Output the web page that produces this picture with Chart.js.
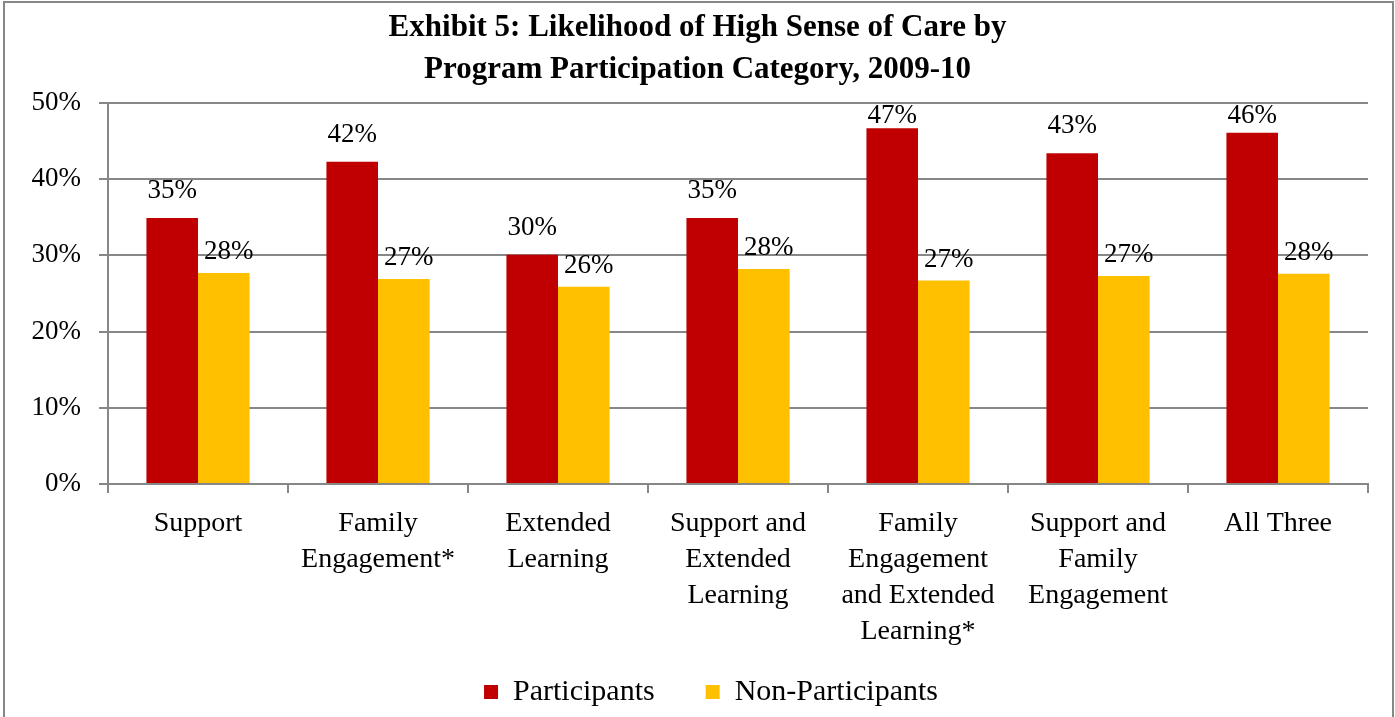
<!DOCTYPE html>
<html>
<head>
<meta charset="utf-8">
<script src="https://cdn.jsdelivr.net/npm/chart.js@4.4.1/dist/chart.umd.min.js"></script>
<style>
  body { margin: 0; background: #fff; }
  canvas { display: block; }
</style>
</head>
<body>
<canvas id="myChart" width="1395" height="717"></canvas>
<script>
// categories (multi-line labels as on the original)
var categorias = [
    ['Support'],
    ['Family', 'Engagement*'],
    ['Extended', 'Learning'],
    ['Support and', 'Extended', 'Learning'],
    ['Family', 'Engagement', 'and Extended', 'Learning*'],
    ['Support and', 'Family', 'Engagement'],
    ['All Three']
];
var participantes = [34.9, 42.3, 30.1, 34.9, 46.7, 43.4, 46.1];
var noParticipantes = [27.7, 26.9, 25.9, 28.2, 26.7, 27.3, 27.6];
var yTicks = [0, 10, 20, 30, 40, 50];

var fuente = "'Liberation Serif', 'Times New Roman', serif";
var gris = '#878787';

// labels over bars
var etiquetas = {
    id: 'etiquetas',
    afterDatasetsDraw: function (chart) {
        var ctx = chart.ctx;
        var area = chart.chartArea;
        ctx.save();
        ctx.font = '27px ' + fuente;
        ctx.fillStyle = '#000';
        ctx.textAlign = 'center';
        ctx.textBaseline = 'alphabetic';
        chart.data.datasets.forEach(function (ds, d) {
            var meta = chart.getDatasetMeta(d);
            meta.data.forEach(function (bar, i) {
                var off = d === 0 ? 20 : 14;
                var dx = d === 0 ? 0 : 5;
                var y = Math.max(bar.y - off, area.top + 20);
                ctx.fillText(Math.round(ds.data[i]) + '%', bar.x + dx, y);
            });
        });
        ctx.restore();
    }
};

// gray frame round the chart + small layout fixes
var marco = {
    id: 'marco',
    afterLayout: function (chart) {
        // x labels need room for 4 lines, title centred on the whole page
        chart.scales.x.bottom = chart.height;
        chart.titleBlock.left = 0;
        chart.titleBlock.right = chart.width;
        chart.legend.left = 27;
        chart.legend.right = chart.width;
    },
    beforeDraw: function (chart) {
        var ctx = chart.ctx;
        ctx.save();
        ctx.strokeStyle = gris;
        ctx.lineWidth = 2;
        ctx.beginPath();
        ctx.moveTo(4, 717);
        ctx.lineTo(4, 2);
        ctx.lineTo(1393, 2);
        ctx.lineTo(1393, 717);
        ctx.stroke();
        ctx.restore();
    }
};

var ctx = document.getElementById('myChart').getContext('2d');
var myChart = new Chart(ctx, {
    type: 'bar',
    data: {
        labels: categorias,
        datasets: [{
            label: 'Participants',
            data: participantes,
            backgroundColor: '#C00000',
            categoryPercentage: 0.573,
            barPercentage: 1.0
        }, {
            label: 'Non-Participants',
            data: noParticipantes,
            backgroundColor: '#FFC000',
            categoryPercentage: 0.573,
            barPercentage: 1.0
        }]
    },
    options: {
        responsive: false,
        animation: false,
        layout: {
            padding: { left: 0, right: 27, top: 0, bottom: 0 }
        },
        plugins: {
            title: {
                display: true,
                text: ['Exhibit 5: Likelihood of High Sense of Care by', 'Program Participation Category, 2009-10'],
                color: '#000',
                font: { family: fuente, size: 31, weight: 'bold', lineHeight: 1.355 },
                padding: { top: 7, bottom: 12 }
            },
            legend: {
                position: 'bottom',
                labels: {
                    color: '#000',
                    font: { family: fuente, size: 30 },
                    boxWidth: 14,
                    boxHeight: 14,
                    padding: 51
                }
            },
            tooltip: { enabled: false }
        },
        scales: {
            x: {
                afterFit: function (scale) {
                    scale.height = 142;
                },
                grid: {
                    display: true,
                    drawOnChartArea: false,
                    drawTicks: true,
                    tickLength: 9,
                    color: gris,
                    lineWidth: 2
                },
                border: { color: gris, width: 2 },
                ticks: {
                    color: '#000',
                    font: { family: fuente, size: 28, lineHeight: 1.286 },
                    padding: 13,
                    maxRotation: 0,
                    autoSkip: false
                }
            },
            y: {
                min: 0,
                max: 50,
                afterFit: function (scale) {
                    scale.width = 108;
                },
                afterBuildTicks: function (scale) {
                    scale.ticks = yTicks.map(function (v) { return { value: v }; });
                },
                grid: {
                    color: gris,
                    lineWidth: 2,
                    tickLength: 9
                },
                border: { color: gris, width: 2 },
                ticks: {
                    color: '#000',
                    font: { family: fuente, size: 27 },
                    padding: 18,
                    callback: function (v) { return v + '%'; }
                }
            }
        }
    },
    plugins: [marco, etiquetas]
});
</script>
</body>
</html>
